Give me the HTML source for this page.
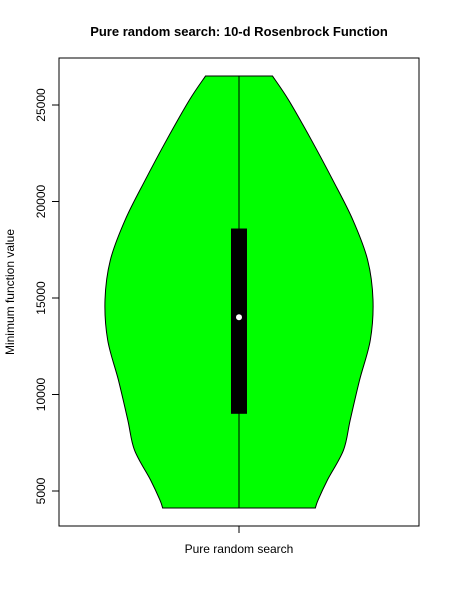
<!DOCTYPE html>
<html><head><meta charset="utf-8"><style>
html,body{margin:0;padding:0;background:#fff;}
svg{display:block;font-family:"Liberation Sans",Arial,sans-serif;}
</style></head><body>
<svg id="chart" width="450" height="600">
<text x="239" y="36" text-anchor="middle" font-size="13" font-weight="bold">Pure random search: 10-d Rosenbrock Function</text>
<rect x="59" y="58" width="360" height="468" fill="none" stroke="#000"/>
<g id="yaxis"></g>
<g id="violin"></g>
<line x1="239" y1="526" x2="239" y2="533" stroke="#000"/>
<text x="239" y="553" text-anchor="middle" font-size="12">Pure random search</text>
<text transform="translate(14,292) rotate(-90)" text-anchor="middle" font-size="12">Minimum function value</text>
</svg>
<script>
const yTicks = [5000, 10000, 15000, 20000, 25000];
const densityLevels = [26500, 25260, 23190, 21110, 19040, 16970, 14900, 12820, 10750, 8680, 7120, 5570, 4530, 4120];
const densityWidths = [0.25, 0.37, 0.54, 0.70, 0.85, 0.96, 1.0, 0.98, 0.90, 0.83, 0.78, 0.66, 0.59, 0.57];
const boxQ1 = [9000];
const boxQ3 = [18600];
const medianValue = [14000];

const ns = "http://www.w3.org/2000/svg";
const yScale = v => 491 - (v - 5000) * (386 / 20000);
const cx = 239, maxHalf = 134;
const wScale = w => w * maxHalf;

const yaxis = document.getElementById('yaxis');
const axLine = document.createElementNS(ns, 'line');
axLine.setAttribute('x1', 59); axLine.setAttribute('x2', 59);
axLine.setAttribute('y1', yScale(yTicks[0])); axLine.setAttribute('y2', yScale(yTicks[yTicks.length-1]));
axLine.setAttribute('stroke', '#000');


yaxis.appendChild(axLine);
yTicks.forEach(t => {
  const y = yScale(t);
  const l = document.createElementNS(ns, 'line');
  l.setAttribute('x1', 52); l.setAttribute('x2', 59); l.setAttribute('y1', y); l.setAttribute('y2', y);
  l.setAttribute('stroke', '#000');
  
  
  yaxis.appendChild(l);
  const tx = document.createElementNS(ns, 'text');
  tx.setAttribute('transform', `translate(45,${y}) rotate(-90)`);
  tx.setAttribute('text-anchor', 'middle');
  tx.setAttribute('font-size', '12');
  tx.textContent = t;
  
  
  yaxis.appendChild(tx);
});

function spline(pts) {
  let d = `M${pts[0][0]},${pts[0][1]}`;
  for (let i = 0; i < pts.length - 1; i++) {
    const p0 = pts[i-1] || pts[i], p1 = pts[i], p2 = pts[i+1], p3 = pts[i+2] || p2;
    const c1 = [p1[0] + (p2[0]-p0[0])/6, p1[1] + (p2[1]-p0[1])/6];
    const c2 = [p2[0] - (p3[0]-p1[0])/6, p2[1] - (p3[1]-p1[1])/6];
    d += ` C${c1[0]},${c1[1]} ${c2[0]},${c2[1]} ${p2[0]},${p2[1]}`;
  }
  return d;
}
const right = densityLevels.map((v,i) => [cx + wScale(densityWidths[i]), yScale(v)]);
const left = densityLevels.map((v,i) => [cx - wScale(densityWidths[i]), yScale(v)]).reverse();
let d = spline(right);
d += ` L${left[0][0]},${left[0][1]}` + spline(left).replace(/^M[^C]*/, ' ') + ' Z';
const vg = document.getElementById('violin');
const path = document.createElementNS(ns, 'path');
path.setAttribute('d', d);
path.setAttribute('fill', '#00ff00');
path.setAttribute('stroke', '#000');


vg.appendChild(path);

const wl = document.createElementNS(ns, 'line');
wl.setAttribute('x1', cx); wl.setAttribute('x2', cx);
wl.setAttribute('y1', yScale(densityLevels[0])); wl.setAttribute('y2', yScale(densityLevels[densityLevels.length-1]));
wl.setAttribute('stroke', '#000');


vg.appendChild(wl);

const box = document.createElementNS(ns, 'rect');
box.setAttribute('x', cx - 8); box.setAttribute('width', 16);
box.setAttribute('y', yScale(boxQ3[0])); box.setAttribute('height', yScale(boxQ1[0]) - yScale(boxQ3[0]));
box.setAttribute('fill', '#000');


vg.appendChild(box);

const med = document.createElementNS(ns, 'circle');
med.setAttribute('cx', cx); med.setAttribute('cy', yScale(medianValue[0])); med.setAttribute('r', 3);
med.setAttribute('fill', '#fff');


vg.appendChild(med);
</script>
</body></html>
